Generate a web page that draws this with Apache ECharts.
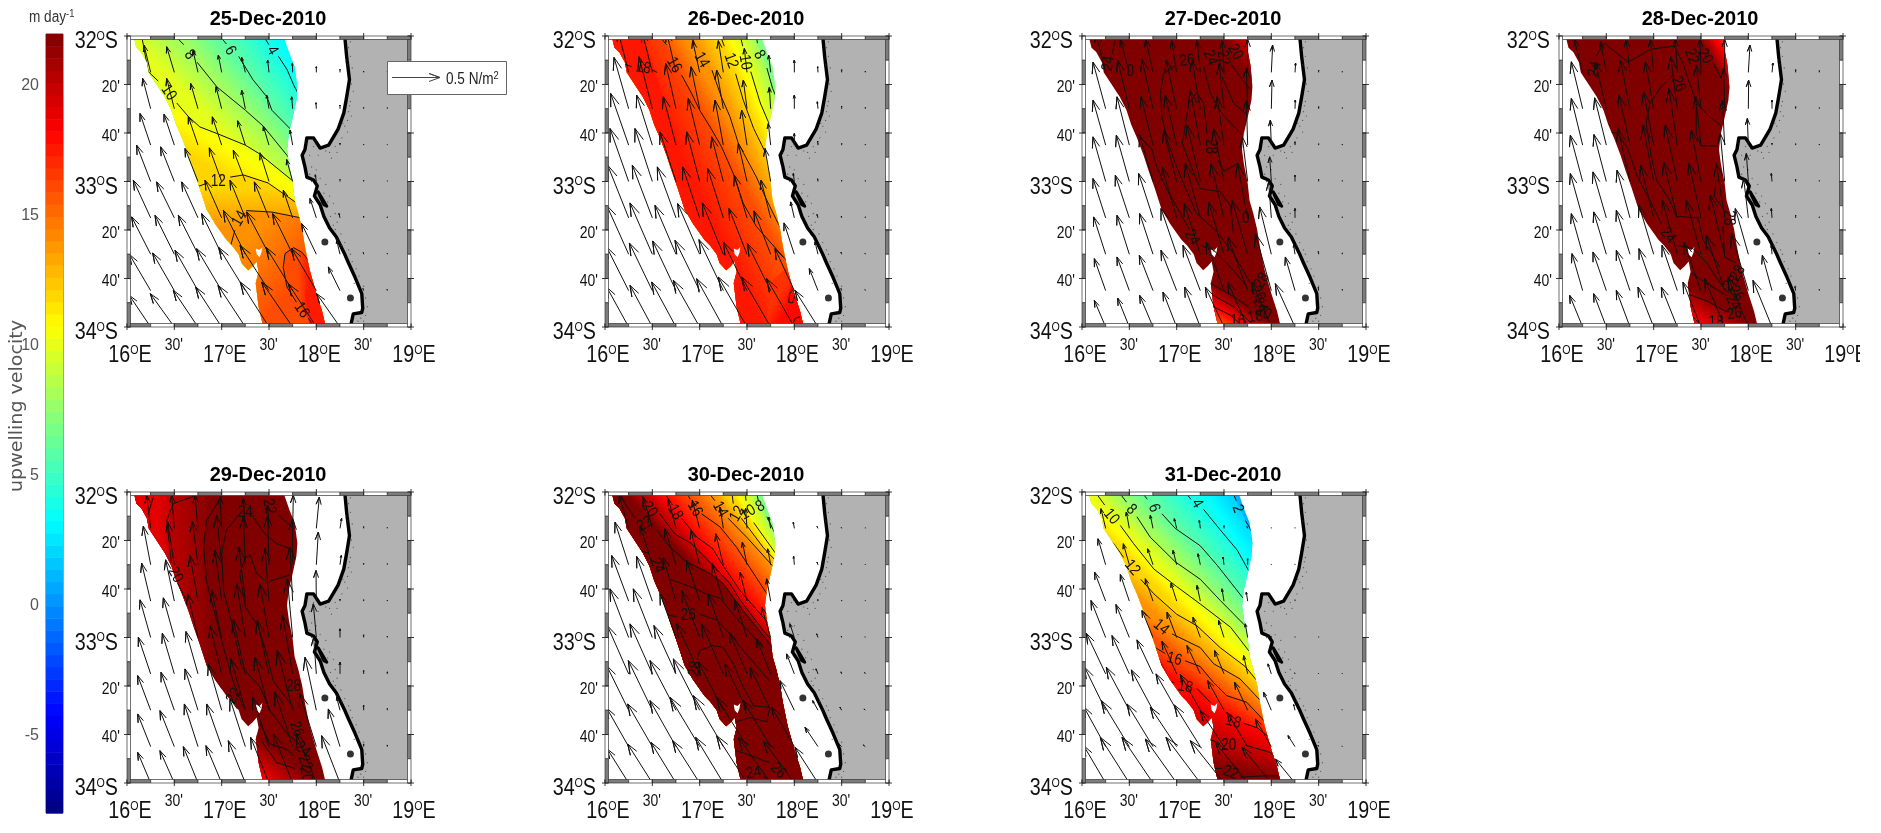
<!DOCTYPE html>
<html><head><meta charset="utf-8">
<script src="https://cdn.jsdelivr.net/npm/echarts@6/dist/echarts.min.js"></script>
<style>html,body{margin:0;padding:0;background:#fff}#c{width:1881px;height:833px;filter:blur(0.35px)}</style>
</head><body><div id="c"></div>
<script>
// ---------- axes ----------
const lonTicks=[16,16.5,17,17.5,18,18.5,19];
const lonTickLabels=['16|E',"30'",'17|E',"30'",'18|E',"30'",'19|E'];
const latTicks=[-32,-32.3333,-32.6667,-33,-33.3333,-33.6667,-34];
const latTickLabels=['32|S',"20'","40'",'33|S',"20'","40'",'34|S'];
const colorTicks=[-5,0,5,10,15,20];
const colorMin=-8,colorMax=22,colorLevels=64;
const dates=['25-Dec-2010','26-Dec-2010','27-Dec-2010','28-Dec-2010','29-Dec-2010','30-Dec-2010','31-Dec-2010'];
// ---------- wind stress grid: tails of the arrows ----------
const gridLons=[16.25,16.5,16.75,17,17.25,17.5,17.75,18,18.25,18.5,18.75];
const gridLats=[-32.25,-32.5,-32.75,-33,-33.25,-33.5,-33.75,-34];
// stress components, row by row; 142 units = 0.5 N/m2
const tauE25=[-20,-23,-15,-10,-11,-4,-1,0,0,0,0,-24,-23,-22,-17,-11,-7,-3,-1,0,0,0,-32,-31,-29,-28,-23,-17,-8,-1,0,0,0,-42,-41,-39,-37,-36,-27,-18,-3,0,0,0,-52,-53,-49,-50,-46,-44,-28,-19,-3,0,0,-57,-58,-59,-60,-66,-67,-60,-44,-10,-1,0,-64,-65,-69,-75,-80,-87,-80,-74,-35,-2,-1,-64,-72,-74,-78,-82,-86,-93,-84,-70,0,0];
const tauN25=[82,77,65,52,45,37,27,17,9,4,3,91,91,76,66,56,41,36,18,11,4,3,95,93,85,85,73,57,45,15,6,3,2,109,104,99,101,94,86,66,20,6,4,2,113,108,108,113,113,108,83,58,13,5,3,112,117,117,122,132,127,122,92,42,5,3,109,113,121,126,130,136,130,126,71,6,4,95,100,110,120,125,135,135,130,100,0,0];
const tauE26=[-32,-30,-28,-21,-15,-8,-6,0,-1,0,0,-44,-40,-31,-26,-20,-11,-4,0,-2,0,0,-54,-47,-38,-34,-25,-16,-7,0,-1,0,0,-56,-52,-48,-39,-35,-26,-17,-3,-1,0,0,-63,-60,-56,-51,-47,-38,-29,-11,-3,-1,0,-66,-67,-63,-66,-63,-54,-50,-31,-9,-2,-1,-66,-69,-70,-74,-73,-71,-70,-58,-26,-2,-1,-66,-67,-73,-79,-80,-86,-87,-83,-69,0,0];
const tauN26=[125,120,120,95,95,72,52,37,17,8,4,154,156,136,126,116,86,64,41,21,8,4,155,150,145,140,135,105,65,35,12,5,3,159,159,149,149,134,114,99,24,8,4,3,158,158,153,153,148,128,113,48,10,5,3,147,154,147,152,154,137,130,94,37,6,3,131,143,149,151,153,146,141,126,66,6,3,120,125,135,140,145,150,150,145,110,0,0];
const tauE27=[-30,-27,-22,-15,-10,-5,0,4,2,0,0,-38,-35,-33,-31,-25,-14,-4,2,1,0,0,-38,-37,-36,-34,-30,-21,-4,-3,0,0,0,-38,-39,-40,-39,-40,-31,-16,-5,0,0,0,-38,-42,-43,-44,-45,-39,-30,-8,0,0,0,-36,-37,-40,-47,-48,-46,-47,-35,-4,-1,0,-34,-37,-41,-47,-52,-53,-60,-48,-29,-1,0,-34,-35,-40,-41,-47,-56,-60,-58,-59,0,0];
const tauN27=[120,100,100,95,95,95,100,82,28,6,3,140,146,148,146,146,136,121,86,26,6,3,135,145,145,150,163,145,135,75,10,4,3,134,139,139,154,169,159,134,74,19,6,3,118,128,133,153,163,163,163,108,28,8,3,112,117,122,137,152,157,162,142,27,8,4,96,101,106,121,136,146,161,171,101,10,4,80,87,95,105,120,120,135,135,130,0,0];
const tauE28=[-25,-17,-12,-10,-6,-3,0,5,3,0,0,-34,-33,-29,-25,-20,-14,-3,1,0,0,0,-34,-35,-33,-30,-25,-16,-7,-3,0,0,0,-37,-37,-36,-32,-36,-29,-13,-6,-2,0,0,-37,-40,-39,-39,-41,-36,-25,-14,-2,0,0,-34,-38,-41,-44,-45,-44,-43,-39,-2,0,0,-32,-40,-41,-44,-46,-52,-55,-51,-29,-2,0,-39,-38,-41,-47,-48,-54,-60,-61,-57,0,0];
const tauN28=[100,92,100,100,100,100,100,82,28,8,5,141,140,146,141,156,131,121,86,26,6,3,140,142,150,160,170,145,135,80,6,4,3,139,141,159,169,169,154,144,84,24,7,3,133,138,143,158,168,163,163,118,28,8,3,122,127,132,147,162,162,177,137,27,10,4,111,116,121,126,136,146,166,171,106,12,4,95,100,110,120,120,135,145,150,140,0,0];
const tauE29=[-12,-8,-9,-5,-6,-4,2,9,5,0,0,-22,-20,-17,-15,-6,-4,0,6,4,0,0,-27,-26,-24,-20,-19,-12,-8,-1,0,0,0,-32,-33,-31,-30,-26,-27,-16,-9,0,0,0,-37,-36,-36,-35,-36,-35,-30,-8,0,0,0,-39,-40,-39,-40,-43,-42,-46,-34,-10,0,0,-39,-43,-41,-45,-46,-49,-53,-50,-35,0,0,-39,-43,-44,-47,-51,-55,-58,-60,-55,0,0];
const tauN29=[100,100,100,95,90,70,100,94,30,5,3,116,128,130,148,143,148,138,98,28,5,3,114,124,137,152,162,157,162,92,6,4,3,113,119,131,141,161,161,176,101,26,8,4,110,122,127,145,162,160,175,110,35,10,6,104,114,124,139,154,159,179,159,39,15,5,98,108,128,128,143,148,163,160,113,8,5,92,97,109,112,127,137,147,150,142,0,0];
const tauE30=[-28,-27,-23,-22,-10,-4,-6,-3,-3,-1,0,-41,-37,-33,-26,-23,-14,-9,-2,-3,-1,0,-51,-47,-38,-39,-33,-21,-12,-2,-1,0,0,-56,-57,-48,-54,-45,-36,-27,-13,-4,-1,-1,-64,-67,-66,-69,-65,-53,-42,-23,-6,-2,-2,-66,-72,-78,-79,-75,-66,-62,-43,-16,-5,-4,-66,-74,-78,-89,-90,-91,-82,-68,-39,-8,-6,-64,-74,-75,-81,-83,-91,-97,-93,-69,0,0];
const tauN30=[99,94,89,84,64,60,34,19,6,3,2,128,118,108,103,93,68,48,25,8,3,2,137,134,130,122,112,87,67,10,4,3,2,146,146,131,141,131,111,91,41,11,4,2,145,150,145,150,150,125,105,60,15,6,4,134,149,149,154,145,139,129,89,29,9,4,116,128,138,148,153,148,138,118,58,8,5,102,117,122,127,137,142,137,127,107,0,0];
const tauE31=[-14,-9,-8,-7,-3,0,-2,0,0,0,0,-23,-18,-16,-11,-7,-3,0,0,0,0,0,-33,-27,-23,-17,-10,-6,-4,0,0,0,0,-44,-40,-33,-29,-22,-16,-7,-1,0,0,0,-58,-52,-48,-44,-40,-28,-12,-10,-1,-1,0,-63,-69,-65,-62,-60,-49,-39,-23,-4,-1,-1,-66,-84,-78,-79,-78,-71,-62,-48,-21,-2,-1,-66,-87,-93,-94,-103,-101,-97,-88,-59,0,0];
const tauN31=[59,49,39,29,24,8,5,2,2,0,0,78,63,48,43,33,23,18,2,2,0,0,87,80,67,54,47,37,27,2,2,0,0,111,99,81,76,61,51,41,4,2,2,0,122,115,102,98,85,70,55,30,3,2,2,129,129,121,109,107,89,84,54,17,3,2,120,138,128,118,125,108,103,83,33,4,2,112,137,137,132,137,127,122,107,72,0,0];
// ---------- geography (lon, lat) ----------
const regionWest=[[16.07,-32],[16.10,-32.08],[16.15,-32.11],[16.21,-32.18],[16.23,-32.25],[16.31,-32.33],[16.40,-32.42],[16.47,-32.51],[16.52,-32.61],[16.58,-32.70],[16.65,-32.82],[16.70,-32.92],[16.77,-33.05],[16.84,-33.19],[16.93,-33.29],[17.05,-33.40],[17.11,-33.44],[17.18,-33.50],[17.21,-33.56],[17.28,-33.61],[17.33,-33.58],[17.37,-33.55],[17.39,-33.62],[17.36,-33.70],[17.39,-33.86],[17.44,-34]];
const regionEast=[[18.10,-34],[18.06,-33.89],[18.00,-33.77],[17.93,-33.61],[17.88,-33.45],[17.85,-33.33],[17.81,-33.22],[17.77,-33.13],[17.75,-33.01],[17.71,-32.88],[17.69,-32.78],[17.71,-32.67],[17.75,-32.56],[17.79,-32.44],[17.80,-32.35]];
const regionNorth=[[17.77,-32.21],[17.72,-32.13],[17.65,-32]];
const regionNorthWide=[[17.78,-32.2],[17.75,-32.1],[17.74,-32]];
const regionHole=[[17.36,-33.46],[17.40,-33.47],[17.43,-33.45],[17.42,-33.49],[17.40,-33.52],[17.37,-33.50]];
const coast=[[18.30,-32],[18.32,-32.14],[18.35,-32.30],[18.32,-32.42],[18.29,-32.53],[18.23,-32.64],[18.13,-32.75],[18.04,-32.77],[17.97,-32.70],[17.90,-32.70],[17.88,-32.78],[17.85,-32.82],[17.88,-32.90],[17.90,-32.97],[17.97,-32.99],[18.01,-33.03],[17.98,-33.10],[18.04,-33.16],[18.08,-33.24],[18.14,-33.32],[18.21,-33.38],[18.30,-33.50],[18.34,-33.56],[18.41,-33.66],[18.48,-33.77],[18.49,-33.87],[18.48,-33.90],[18.39,-33.91],[18.36,-34]];
const bay=[[18.02,-33.07],[18.07,-33.125],[18.11,-33.17],[18.08,-33.16],[18.03,-33.09]];
const islands=[[18.09,-33.415],[18.36,-33.80]];
const coastSpecks=[[18.34,-32.08],[18.36,-32.14],[18.33,-32.2],[18.38,-32.22],[18.37,-32.33],[18.39,-32.38],[18.36,-32.45],[18.34,-32.52],[18.37,-32.55],[18.33,-32.58],[18.3,-32.62],[18.33,-32.66],[18.27,-32.7],[18.25,-32.74],[18.2,-32.76],[18.14,-32.8],[18.1,-32.79],[18.22,-32.8],[18.02,-32.82],[17.97,-32.76],[17.93,-32.82],[17.95,-32.9],[17.93,-32.95],[18.0,-32.92],[18.04,-32.98],[18.1,-33.02],[18.08,-33.08],[18.14,-33.1],[18.12,-33.14],[18.18,-33.15],[18.2,-33.22],[18.15,-33.24],[18.22,-33.28],[18.2,-33.33],[18.26,-33.36],[18.3,-33.42],[18.34,-33.47],[18.38,-33.55],[18.36,-33.5],[18.42,-33.6],[18.45,-33.65],[18.5,-33.72],[18.52,-33.8],[18.54,-33.86],[18.52,-33.92],[18.5,-33.96],[18.44,-33.96],[18.56,-33.98],[18.4,-33.98],[18.36,-32.04],[18.35,-32.48],[18.28,-32.6],[18.16,-32.84],[17.95,-33.0],[18.18,-33.3],[18.27,-33.44],[18.4,-33.7],[18.47,-33.94]];
const NE=[[18.5,-32.9],[18.5,-31.9]], SW=[[17,-34.1],[17,-33.5]], WEST=[[15.9,-33.8],[15.9,-31.9]], EAST=[[18.5,-33.5],[18.5,-34.05]];
// ---------- upwelling contours (value, lon/lat path; null = gap for the label) ----------
const iso25=[
{v:3,hide:1,pts:[[17.65,-32],[17.85,-32.2],[17.95,-32.3]]},
{v:4,pts:[[17.44,-32],[17.50,-32.06],null,[17.60,-32.14],[17.69,-32.23],[17.77,-32.35],[17.93,-32.53]]},
{v:6,pts:[[16.98,-32],[17.05,-32.055],null,[17.18,-32.14],[17.33,-32.30],[17.48,-32.42],[17.53,-32.51],[17.72,-32.635],[17.92,-32.77]]},
{v:8,pts:[[16.51,-32],[16.60,-32.06],null,[16.74,-32.18],[16.95,-32.35],[17.25,-32.51],[17.44,-32.62],[17.69,-32.82],[17.85,-32.96]]},
{v:10,pts:[[16.155,-32],[16.225,-32.245],[16.33,-32.31],null,[16.525,-32.46],[16.65,-32.555],[16.77,-32.625],[16.95,-32.67],[17.25,-32.75],[17.40,-32.81],[17.74,-32.99],[17.92,-33.09]]},
{v:12,pts:[[16.63,-33.04],[16.77,-33.03],[16.85,-33.01],null,[17.09,-32.97],[17.23,-32.955],[17.49,-33.01],[17.775,-33.14],[17.99,-33.23]]},
{v:14,pts:[[17.05,-33.495],[17.095,-33.44],[17.14,-33.335],null,[17.26,-33.20],[17.53,-33.21],[17.76,-33.24],[17.99,-33.27]]},
{v:16,close:EAST,pts:[[17.99,-34.01],[17.915,-33.94],null,[17.79,-33.83],[17.69,-33.725],[17.65,-33.59],[17.67,-33.495],[17.76,-33.455],[17.845,-33.485],[17.95,-33.565]]},
{v:17.5,hide:1,close:EAST,pts:[[17.93,-34.01],[17.88,-33.77],[17.95,-33.59]]}];
const fills25=[iso25];
const extra25=[];
const labels25=[[17.535,-32.10,'4',-60],[17.09,-32.10,'6',-60],[16.66,-32.13,'8',-50],[16.44,-32.39,'10',-55],[16.965,-33.00,'12',0],[17.19,-33.255,'14',60],[17.845,-33.885,'16',-55]];

const iso26=[
{v:8,pts:[[17.60,-32],[17.61,-32.05],null,[17.71,-32.22],[17.77,-32.36],[17.88,-32.53]]},
{v:10,pts:[[17.43,-32],[17.455,-32.07],null,[17.54,-32.245],[17.64,-32.46],[17.725,-32.59],[17.88,-32.74]]},
{v:12,pts:[[17.22,-32],[17.26,-32.07],null,[17.38,-32.26],[17.46,-32.44],[17.57,-32.635],[17.69,-32.795],[17.92,-33.04]]},
{v:14,pts:[[16.915,-32],[16.95,-32.06],null,[17.13,-32.235],[17.23,-32.42],[17.32,-32.555],[17.41,-32.74],[17.60,-32.97],[17.71,-33.13],[17.83,-33.29],[17.99,-33.45]]},
{v:16,pts:[[16.57,-32],[16.65,-32.06],null,[16.81,-32.27],[16.915,-32.395],[17.00,-32.51],[17.11,-32.625],[17.23,-32.76],[17.355,-32.945],[17.46,-33.15],[17.60,-33.31],[17.90,-33.53],[18.13,-33.66]]},
{v:17.6,hide:1,pts:[[16.405,-32],[16.545,-32.28],[16.72,-32.625],[16.86,-32.945],[17.07,-33.31],[17.32,-33.565],[17.43,-33.70],[17.50,-34.01]]}];
const fills26=[iso26,[{v:16.8,hide:1,close:EAST,pts:[[17.71,-34.01],[17.74,-33.70],[17.92,-33.59],[18.24,-33.59]]},{v:18,hide:1,close:EAST,pts:[[17.95,-34.01],[17.92,-33.80],[18.0,-33.65],[18.24,-33.6]]}]];
const extra26=[[[16.19,-32.19],[16.28,-32.21]],[[16.49,-32.23],[16.55,-32.25]],[[17.99,-33.74],[17.95,-33.77],[17.94,-33.83],[17.98,-33.835],[18.01,-33.78],[17.99,-33.74]],[[18.06,-33.93],[18.01,-33.94],[17.99,-33.97]]];
const labels26=[[16.405,-32.22,'18',-10],[16.73,-32.20,'16',-60],[17.02,-32.165,'14',-60],[17.33,-32.17,'12',-70],[17.48,-32.18,'10',-80],[17.63,-32.13,'8',-60]];

const fills27=[
[{v:22,hide:1,close:NE,pts:[[17.51,-32],[17.67,-32.19],[17.85,-32.39]]},{v:20,hide:1,close:NE,pts:[[17.69,-32],[17.76,-32.12],[17.92,-32.23]]}],
[{v:22,hide:1,close:SW,pts:[[17.30,-33.68],[17.60,-33.79],[17.76,-33.86],[18.05,-34.01]]},{v:20,close:SW,pts:[[17.30,-33.75],[17.60,-33.86],[17.85,-34.01]]},{v:18,close:SW,pts:[[17.30,-33.83],[17.57,-33.92],[17.72,-34.01]]},{v:16,close:SW,hide:1,pts:[[17.30,-33.92],[17.50,-33.98],[17.56,-34.01]]},{v:14.5,hide:1,close:SW,pts:[[17.30,-33.97],[17.42,-34.01]]}]];
const extra27=[
[[16.35,-32.03],[16.32,-32.12]],
[[16.58,-32.67],[16.74,-32.78],[16.79,-32.90],[16.90,-33.06],[17.04,-33.22],[17.14,-33.335],null,[17.25,-33.44],[17.39,-33.47],[17.46,-33.52],[17.57,-33.59],[17.74,-33.72]],
[[16.99,-32.20],[16.86,-32.26],[16.83,-32.39],[16.845,-32.555],[16.90,-32.715],[17.00,-32.90],[17.09,-33.04],[17.21,-33.22],[17.43,-33.35],[17.60,-33.495],[17.78,-33.70]],
[[17.32,-32.67],[17.285,-32.46],[17.21,-32.39],[17.13,-32.46],[17.06,-32.74],[17.14,-32.875],[17.25,-33.05],[17.46,-33.07],[17.57,-33.17],[17.60,-33.36]],
[[17.43,-32.85],[17.50,-32.93],[17.64,-32.875]],
[[17.285,-32.21],[17.355,-32.39],[17.43,-32.49],[17.57,-32.60],[17.69,-32.68]],
[[17.48,-32.28],[17.60,-32.46],[17.74,-32.54]],
[[17.57,-32.19],[17.67,-32.28],[17.78,-32.37]],
[[17.355,-33.70],[17.60,-33.79],[17.76,-33.86]]];
const labels27=[[16.28,-32.19,'24',80],[16.51,-32.245,'0',0],[17.11,-32.17,'26',5],[17.355,-32.15,'24',-70],[17.49,-32.15,'22',-80],[17.62,-32.11,'20',-60],[17.36,-32.76,'28',-90],[17.73,-33.255,'0',0],[17.16,-33.385,'24',-60],[17.90,-33.68,'28',60],[17.855,-33.77,'26',-60],[17.88,-33.85,'24',-60],[17.92,-33.90,'20',-30],[17.83,-33.93,'18',10],[17.645,-33.96,'16',0]];

const fills28=[
[{v:22,hide:1,close:NE,pts:[[17.48,-32],[17.62,-32.17],[17.85,-32.45]]},{v:19,hide:1,close:NE,pts:[[17.60,-32],[17.72,-32.13],[17.90,-32.30]]},{v:17.5,hide:1,close:NE,pts:[[17.68,-32],[17.75,-32.06],[17.9,-32.15]]}],
[{v:22,hide:1,close:SW,pts:[[17.28,-33.68],[17.56,-33.78],[17.78,-33.87],[18.05,-34.01]]},{v:20,hide:1,close:SW,pts:[[17.28,-33.80],[17.56,-33.90],[17.80,-34.01]]},{v:18.5,hide:1,close:SW,pts:[[17.28,-33.90],[17.50,-33.97],[17.60,-34.01]]}]];
const extra28=[
[[16.39,-32.14],[16.48,-32.05],[16.73,-32.18],[16.975,-32.09],[17.22,-32.07],[17.31,-32.19],[17.45,-32.46],[17.59,-32.555],[17.715,-32.62]],
[[17.20,-32.27],[17.08,-32.35],[16.96,-32.46],[16.92,-32.60],[16.975,-32.83],[17.03,-32.99],[17.17,-33.13],[17.24,-33.24],[17.47,-33.25],[17.52,-33.40],[17.70,-33.59]],
[[16.535,-32.66],[16.62,-32.67],[16.73,-32.78],[16.83,-32.97],[16.96,-33.13],[17.08,-33.29],null,[17.26,-33.44],[17.415,-33.46],[17.56,-33.56],[17.73,-33.725],[17.80,-33.77]],
[[17.45,-32.49],[17.45,-32.67],[17.50,-32.755],[17.68,-32.755]],
[[17.66,-32.99],[17.64,-33.105],[17.75,-33.20]],
[[17.73,-33.31],[17.75,-33.52],[17.87,-33.56]],
[[17.40,-33.63],[17.56,-33.70],[17.785,-33.79]],
[[17.345,-33.77],[17.56,-33.82],[17.785,-33.90]],
[[17.415,-33.93],[17.49,-33.98]],
[[17.63,-32.19],[17.715,-32.29]]];
const labels28=[[16.38,-32.23,'24',75],[17.40,-32.14,'22',-70],[17.54,-32.14,'20',-60],[17.26,-32.33,'26',-70],[17.785,-33.25,'28',-90],[17.15,-33.37,'24',-50],[17.89,-33.63,'28',60],[17.82,-33.70,'28',45],[17.87,-33.77,'26',-60],[17.84,-33.83,'24',-60],[17.855,-33.91,'26',10],[17.66,-33.97,'18',0]];

const fills29=[
[{v:22,hide:1,close:WEST,pts:[[16.98,-32],[16.84,-32.2],[16.80,-32.53],[16.91,-32.94],[17.00,-33.25],[17.0,-33.45]]},{v:20.5,hide:1,close:WEST,pts:[[16.56,-32],[16.44,-32.195],[16.49,-32.49],[16.665,-32.745],[16.55,-32.85]]},{v:19,hide:1,close:WEST,pts:[[16.28,-32],[16.28,-32.26],[16.42,-32.40],[16.30,-32.5]]}],
[{v:22,hide:1,close:SW,pts:[[17.30,-33.62],[17.50,-33.75],[17.75,-33.86],[18.1,-34.02]]},{v:20,hide:1,close:SW,pts:[[17.30,-33.80],[17.55,-33.90],[17.70,-34.02]]},{v:18.5,hide:1,close:SW,pts:[[17.30,-33.92],[17.45,-33.97],[17.55,-34.02]]}]];
const extra29=[
[[16.28,-32.03],[16.225,-32.15]],
[[16.70,-32.03],[16.49,-32.08],[16.42,-32.195],[16.47,-32.49],null,[16.54,-32.63],[16.63,-32.75]],
[[17.00,-32.03],[16.84,-32.195],[16.81,-32.38],[16.84,-32.61],[16.91,-32.79],[17.00,-33.02],[17.12,-33.30],[17.23,-33.48]],
[[17.19,-32.15],[17.05,-32.26],[17.00,-32.42],[17.02,-32.68],[17.12,-32.93],[17.21,-33.20],[17.405,-33.34],[17.51,-33.50],[17.69,-33.66],[17.83,-33.74]],
[[17.32,-32.16],[17.46,-32.29],[17.58,-32.355],[17.72,-32.39]],
[[17.60,-32.16],[17.76,-32.25]],
[[17.72,-32.57],[17.475,-32.62],[17.37,-32.56],[17.30,-32.435],[17.25,-32.45],[17.19,-32.56],[17.25,-32.79],[17.39,-32.93],[17.475,-33.11],[17.545,-33.30],[17.76,-33.48]],
[[17.405,-33.59],[17.51,-33.73],[17.69,-33.77],[17.76,-33.81]],
[[17.42,-33.71],[17.58,-33.86],[17.775,-33.90]]];
const labels29=[[16.51,-32.57,'20',-60],[17.25,-32.14,'24',0],[17.50,-32.10,'22',-80],[17.76,-33.34,'28',0],[17.13,-33.40,'22',60],[17.79,-33.63,'26',-70],[17.855,-33.77,'24',-40],[17.88,-33.86,'22',-70],[17.89,-33.94,'20',-80]];

const iso30=[
{v:8,pts:[[17.60,-32],[17.62,-32.06],null,[17.71,-32.17],[17.80,-32.29],[17.95,-32.5]]},
{v:10,pts:[[17.48,-32],[17.49,-32.06],null,[17.57,-32.21],[17.80,-32.42],[17.92,-32.52]]},
{v:12,pts:[[17.34,-32],[17.355,-32.08],null,[17.44,-32.18],[17.67,-32.38],[17.80,-32.47],[17.95,-32.60]]},
{v:14,pts:[[17.09,-32],[17.16,-32.06],null,[17.30,-32.18],[17.51,-32.32],[17.76,-32.50],[17.95,-32.64]]},
{v:16,pts:[[16.86,-32],[16.90,-32.05],null,[17.02,-32.15],[17.215,-32.24],[17.39,-32.38],[17.53,-32.52],[17.71,-32.70],[17.92,-32.86]]},
{v:18,pts:[[16.63,-32],[16.67,-32.05],null,[16.81,-32.18],[16.97,-32.31],[17.14,-32.39],[17.23,-32.49],[17.43,-32.68],[17.67,-32.86],[17.92,-33.02]]},
{v:20,pts:[[16.37,-32],[16.405,-32.05],null,[16.58,-32.15],[16.74,-32.29],[16.915,-32.355],[17.14,-32.505],[17.32,-32.63],[17.43,-32.745],[17.67,-32.95],[17.92,-33.135]]},
{v:22,pts:[[16.15,-32],[16.23,-32.10],[16.32,-32.18],null,[16.545,-32.26],[16.69,-32.38],[16.86,-32.48],[17.11,-32.56],[17.25,-32.63],[17.43,-32.79],[17.71,-33.02],[17.95,-33.20]]}];
const fills30=[iso30];
const extra30=[
[[16.35,-32.40],[16.46,-32.42],null,[16.69,-32.60],[16.90,-32.65],[17.07,-32.70],[17.215,-32.73],[17.355,-32.84],[17.67,-33.07]],
[[16.65,-32.84],[16.76,-32.86],null,[17.00,-32.84],[17.18,-32.88],[17.32,-32.975],[17.46,-33.09],[17.74,-33.30]],
[[16.97,-33.15],[17.00,-33.09],[17.14,-33.055],[17.25,-33.07],[17.355,-33.18],[17.46,-33.34],[17.57,-33.47],[17.74,-33.48],[17.71,-33.58],[17.53,-33.55],[17.39,-33.58]],
[[17.355,-33.77],[17.74,-33.86],null,[17.95,-33.97]],
[[17.67,-33.95],[17.74,-33.99]]];
const labels30=[[16.47,-32.12,'20',-55],[16.74,-32.14,'18',-60],[16.95,-32.115,'16',-60],[17.215,-32.12,'14',-60],[17.40,-32.15,'12',60],[17.51,-32.14,'10',30],[17.64,-32.10,'8',30],[16.42,-32.22,'22',30],[16.55,-32.505,'24',-70],[16.88,-32.85,'26',0],[16.95,-33.215,'28',80],[17.57,-33.93,'24',10],[17.83,-33.915,'26',-45]];

const iso31=[
{v:2,pts:[[17.59,-32],[17.63,-32.06],null,[17.725,-32.195],[17.81,-32.29],[17.95,-32.45]]},
{v:4,pts:[[17.09,-32],[17.15,-32.05],null,[17.285,-32.12],[17.46,-32.26],[17.64,-32.40],[17.76,-32.54],[17.95,-32.70]]},
{v:6,pts:[[16.63,-32],[16.69,-32.05],null,[16.845,-32.15],[16.985,-32.25],[17.25,-32.37],[17.43,-32.505],[17.69,-32.72],[17.92,-32.88]]},
{v:8,pts:[[16.39,-32],[16.47,-32.07],null,[16.58,-32.17],[16.72,-32.31],[16.985,-32.48],[17.25,-32.60],[17.46,-32.745],[17.71,-32.91],[17.95,-33.07]]},
{v:10,pts:[[16.14,-32],[16.24,-32.09],null,[16.405,-32.23],[16.545,-32.355],[16.76,-32.53],[17.00,-32.65],[17.25,-32.77],[17.57,-32.93],[17.76,-33.09],[17.99,-33.25]]},
{v:12,pts:[[16.19,-32.26],[16.335,-32.355],[16.44,-32.45],null,[16.62,-32.60],[16.76,-32.70],[17.00,-32.84],[17.215,-32.92],[17.46,-33.07],[17.725,-33.20],[17.99,-33.41]]},
{v:14,pts:[[16.53,-32.745],[16.63,-32.81],[16.72,-32.87],null,[16.95,-32.975],[17.25,-33.07],[17.39,-33.18],[17.67,-33.285],[17.88,-33.43],[18.10,-33.55]]},
{v:16,pts:[[16.69,-33.02],[16.775,-33.07],[16.88,-33.11],null,[17.09,-33.16],[17.25,-33.20],[17.39,-33.31],[17.53,-33.40],[17.74,-33.445],[17.95,-33.59],[18.13,-33.685]]},
{v:18,pts:[[16.83,-33.25],[16.915,-33.30],[16.975,-33.31],null,[17.215,-33.35],[17.355,-33.445],null,[17.71,-33.59],[17.85,-33.62],[18.01,-33.70],[18.165,-33.78]]},
{v:20,pts:[[17.25,-33.685],[17.39,-33.71],[17.46,-33.73],null,[17.725,-33.74],[17.99,-33.79],[18.095,-33.86],[18.2,-33.89]]},
{v:22,pts:[[17.25,-33.89],[17.39,-33.90],[17.48,-33.90],null,[17.67,-33.96],[17.95,-33.95],[18.17,-33.95]]}];
const fills31=[iso31];
const extra31=[];
const labels31=[[17.645,-32.115,'2',-70],[17.215,-32.08,'4',-60],[16.76,-32.11,'6',-70],[16.52,-32.12,'8',-45],[16.31,-32.17,'10',-50],[16.53,-32.52,'12',-50],[16.835,-32.93,'14',-40],[16.975,-33.15,'16',-15],[17.09,-33.34,'18',-10],[17.60,-33.58,'18',-15],[17.55,-33.74,'20',0],[17.57,-33.93,'22',-20]];

const panels=[
{fills:fills25,extra:extra25,labels:labels25,base:3,tauE:tauE25,tauN:tauN25,north:regionNorth},
{fills:fills26,extra:extra26,labels:labels26,base:7,tauE:tauE26,tauN:tauN26,north:regionNorth},
{fills:fills27,extra:extra27,labels:labels27,base:22,tauE:tauE27,tauN:tauN27,north:regionNorthWide},
{fills:fills28,extra:extra28,labels:labels28,base:22,tauE:tauE28,tauN:tauN28,north:regionNorthWide},
{fills:fills29,extra:extra29,labels:labels29,base:22,tauE:tauE29,tauN:tauN29,north:regionNorth},
{fills:fills30,extra:extra30,labels:labels30,base:7,tauE:tauE30,tauN:tauN30,north:regionNorth},
{fills:fills31,extra:extra31,labels:labels31,base:1,tauE:tauE31,tauN:tauN31,north:regionNorth}];

// ---------- layout and style ----------
const panelLefts=[127,605,1082,1559,127,605,1082];
const panelTops=[36,36,36,36,492,492,492];
const PW=284,PH=291,BAND=3.5;
const ARROW_PX=1/3;
const SANS='"Liberation Sans",Arial,sans-serif';
const NARROW='"Liberation Sans Narrow","Liberation Sans",Arial,sans-serif';
const SQUEEZE=0.82;
const DEFAULT_CLOSE=[[19.5,-34.5],[15.5,-34.5],[15.5,-31.5]];
const tickRich={
  maj:{fontFamily:SANS,fontSize:24,lineHeight:24,fill:'#111'},
  sup:{fontFamily:SANS,fontSize:13,lineHeight:11,verticalAlign:'top',fill:'#111'},
  min:{fontFamily:SANS,fontSize:17,lineHeight:17,fill:'#111'}};

function jet(v){
  const t=Math.min(1,Math.max(0,(v-colorMin)/(colorMax-colorMin)));
  const c=x=>Math.round(255*Math.min(1,Math.max(0,1.5-Math.abs(4*t-x))));
  return `rgb(${c(3)},${c(2)},${c(1)})`;
}
const clean=pts=>pts.filter(Boolean);
const segs=pts=>{const o=[];let cur=[];pts.forEach(p=>{if(p)cur.push(p);else{o.push(cur);cur=[];}});o.push(cur);return o;};
const mean=a=>[a.reduce((s,p)=>s+p[0],0)/a.length,a.reduce((s,p)=>s+p[1],0)/a.length];
function gradient(a,b,px){
  const A=clean(a.pts).map(px),B=clean(b.pts).map(px);
  const dx=A[A.length-1][0]-A[0][0]+B[B.length-1][0]-B[0][0],dy=A[A.length-1][1]-A[0][1]+B[B.length-1][1]-B[0][1];
  const l=Math.hypot(dx,dy)||1,nx=-dy/l,ny=dx/l;
  const ca=mean(A),cb=mean(B);
  const d=(cb[0]-ca[0])*nx+(cb[1]-ca[1])*ny;
  const stops=[];
  for(let i=0;i<=6;i++)stops.push({offset:i/6,color:jet(a.v+(b.v-a.v)*i/6)});
  return {type:'linear',global:true,x:ca[0],y:ca[1],x2:ca[0]+nx*d,y2:ca[1]+ny*d,colorStops:stops};
}
function regionOf(p){return regionWest.concat(regionEast,p.north);}
function tickText(s){
  if(s.includes('|')){const q=s.split('|');return `{maj|${q[0]}}{sup|O}{maj|${q[1]}}`;}
  return `{min|${s}}`;
}

const grid=[],xAxis=[],yAxis=[],series=[],title=[];
panels.forEach((p,i)=>{
  const L=panelLefts[i],T=panelTops[i];
  grid.push({left:L,top:T,width:PW,height:PH,show:false});
  title.push({text:dates[i],left:L+PW/2-6,top:T-32,textAlign:'center',textStyle:{fontFamily:NARROW,fontWeight:'bold',fontSize:20,color:'#000'}});
  xAxis.push({type:'value',gridIndex:i,min:16,max:19,splitLine:{show:false},axisLine:{show:false},axisTick:{show:false},axisLabel:{show:false}});
  yAxis.push({type:'value',gridIndex:i,min:-34,max:-32,splitLine:{show:false},axisLine:{show:false},axisTick:{show:false},axisLabel:{show:false}});
  const ax={xAxisIndex:i,yAxisIndex:i,silent:true,animation:false};
  // upwelling field, clipped to the sampled region
  series.push({...ax,type:'custom',clip:true,z:1,data:[[16,-32]],renderItem:(params,api)=>{
    const px=q=>api.coord(q);
    const a=px([16,-32]),b=px([19,-34]);
    const kids=[{type:'rect',shape:{x:a[0],y:a[1],width:b[0]-a[0],height:b[1]-a[1]},style:{fill:jet(p.base)}}];
    p.fills.forEach(chain=>chain.forEach((e,k)=>{
      const poly=clean(e.pts).concat(e.close||DEFAULT_CLOSE).map(px);
      kids.push({type:'polygon',shape:{points:poly},style:{fill:k<chain.length-1?gradient(e,chain[k+1],px):jet(e.v)}});
    }));
    kids.push({type:'polygon',shape:{points:regionHole.map(px)},style:{fill:'#fff'}});
    return {type:'group',clipPath:{type:'polygon',shape:{points:regionOf(p).map(px)}},children:kids};
  }});
  // land, coast
  series.push({...ax,type:'custom',clip:true,z:2,data:[[16,-32]],renderItem:(params,api)=>{
    const px=q=>api.coord(q);
    const land=coast.concat([[19,-34],[19,-32]]).map(px);
    return {type:'group',children:[
      {type:'polygon',shape:{points:land},style:{fill:'#b2b2b2'}},
      {type:'polyline',shape:{points:coast.map(px)},style:{fill:'none',stroke:'#000',lineWidth:3.4,lineJoin:'round'}},
      {type:'polygon',shape:{points:bay.map(px)},style:{fill:'#fff',stroke:'#000',lineWidth:3,lineJoin:'round'}}]};
  }});
  series.push({...ax,type:'scatter',z:3,data:coastSpecks,symbolSize:1.3,itemStyle:{color:'#444'}});
  series.push({...ax,type:'scatter',z:3,data:islands,symbolSize:7,itemStyle:{color:'#000'}});
  // contours
  series.push({...ax,type:'custom',clip:true,z:4,data:[[16,-32]],renderItem:(params,api)=>{
    const px=q=>api.coord(q);
    const kids=[];
    const add=s=>{if(s.length>1)kids.push({type:'polyline',shape:{points:s.map(px)},style:{fill:'none',stroke:'#111',lineWidth:1}});};
    p.fills.forEach(chain=>chain.forEach(e=>{if(!e.hide)segs(e.pts).forEach(add);}));
    p.extra.forEach(l=>segs(l).forEach(add));
    return {type:'group',clipPath:{type:'polygon',shape:{points:regionOf(p).map(px)}},children:kids};
  }});
  // wind stress arrows
  const arrows=[];
  gridLats.forEach((la,r)=>gridLons.forEach((lo,c)=>{const n=r*gridLons.length+c;arrows.push([lo,la,p.tauE[n],p.tauN[n]]);}));
  series.push({...ax,type:'custom',clip:true,z:5,data:arrows,encode:{x:0,y:1},renderItem:(params,api)=>{
    const t=api.coord([api.value(0),api.value(1)]);
    const dx=api.value(2)*ARROW_PX,dy=-api.value(3)*ARROW_PX,len=Math.hypot(dx,dy);
    if(len<0.3)return null;
    const h=[t[0]+dx,t[1]+dy],ang=Math.atan2(-dy,-dx),bl=len*0.25,sp=0.33;
    const b1=[h[0]+bl*Math.cos(ang+sp),h[1]+bl*Math.sin(ang+sp)],b2=[h[0]+bl*Math.cos(ang-sp),h[1]+bl*Math.sin(ang-sp)];
    return {type:'polyline',shape:{points:[t,h,b1,h,b2]},style:{fill:'none',stroke:'#111',lineWidth:1}};
  }});
  // contour labels
  series.push({...ax,type:'custom',clip:false,z:6,data:p.labels.map(l=>[l[0],l[1]]),encode:{x:0,y:1},renderItem:(params,api)=>{
    const l=p.labels[params.dataIndex],c=api.coord([l[0],l[1]]);
    return {type:'text',x:c[0],y:c[1],rotation:l[3]*Math.PI/180,scaleX:0.85,style:{text:l[2],font:'16px '+SANS,fill:'#111',align:'center',verticalAlign:'middle'}};
  }});
  // fancy frame
  series.push({...ax,type:'custom',clip:false,z:7,data:[[16,-32]],renderItem:(params,api)=>{
    const px=q=>api.coord(q),a=px([16,-32]),b=px([19,-34]);
    const kids=[],W=b[0]-a[0],H=b[1]-a[1],sx=W/12,sy=H/12;
    const rect=(x,y,w,h,f)=>kids.push({type:'rect',shape:{x,y,width:w,height:h},style:{fill:f,stroke:'#333',lineWidth:0.7}});
    for(let k=0;k<12;k++){
      rect(a[0]+k*sx,a[1],sx,BAND,k%2?'#7d7d7d':'#fff');
      rect(a[0]+k*sx,b[1]-BAND,sx,BAND,k%2?'#fff':'#7d7d7d');
      rect(a[0],a[1]+k*sy,BAND,sy,k%2?'#7d7d7d':'#fff');
      rect(b[0]-BAND,a[1]+k*sy,BAND,sy,k%2?'#fff':'#7d7d7d');
    }
    const tick=(x1,y1,x2,y2)=>kids.push({type:'line',shape:{x1,y1,x2,y2},style:{stroke:'#222',lineWidth:0.9}});
    lonTicks.forEach(lo=>{const x=px([lo,-32])[0];tick(x,a[1]-3,x,a[1]+BAND);tick(x,b[1]-BAND,x,b[1]+3);});
    latTicks.forEach(la=>{const y=px([16,la])[1];tick(a[0]-3,y,a[0]+BAND,y);tick(b[0]-BAND,y,b[0]+3,y);});
    return {type:'group',children:kids};
  }});
  // tick labels: longitude
  series.push({...ax,type:'custom',clip:false,z:8,data:lonTicks.map(v=>[v,-34]),encode:{x:0,y:1},renderItem:(params,api)=>{
    const c=api.coord([api.value(0),api.value(1)]),s=lonTickLabels[params.dataIndex],big=s.includes('|');
    return {type:'text',x:c[0]+(big?3:-0.5),y:c[1]+(big?28.5:18),scaleX:SQUEEZE,style:{text:tickText(s),rich:tickRich,align:'center',verticalAlign:'middle'}};
  }});
  // tick labels: latitude
  series.push({...ax,type:'custom',clip:false,z:8,data:latTicks.map(v=>[16,v]),encode:{x:0,y:1},renderItem:(params,api)=>{
    const c=api.coord([api.value(0),api.value(1)]),s=latTickLabels[params.dataIndex],big=s.includes('|');
    return {type:'text',x:c[0]-(big?9:7),y:c[1]+(big?5.7:3),scaleX:SQUEEZE,style:{text:tickText(s),rich:tickRich,align:'right',verticalAlign:'middle'}};
  }});
});

// colour bar
const cbi=panels.length;
grid.push({left:46,top:34,width:17,height:779,show:true,borderColor:'#444',borderWidth:1,backgroundColor:'transparent'});
xAxis.push({type:'value',gridIndex:cbi,min:0,max:1,show:false});
yAxis.push({type:'value',gridIndex:cbi,min:colorMin,max:colorMax,splitLine:{show:false},axisLine:{show:false},
  axisTick:{show:true,inside:true,length:6,customValues:colorTicks,lineStyle:{color:'#222'}},
  axisLabel:{customValues:colorTicks,margin:7,fontFamily:SANS,fontSize:16,color:'#555'}});
const levelData=[];
for(let k=0;k<colorLevels;k++){const lo=colorMin+k*(colorMax-colorMin)/colorLevels;levelData.push([0,lo,lo+(colorMax-colorMin)/colorLevels]);}
series.push({type:'custom',xAxisIndex:cbi,yAxisIndex:cbi,silent:true,animation:false,z:1,data:levelData,encode:{y:[1,2]},renderItem:(params,api)=>{
  const a=api.coord([0,api.value(2)]),b=api.coord([1,api.value(1)]);
  return {type:'rect',shape:{x:a[0],y:a[1],width:b[0]-a[0],height:b[1]-a[1]+0.5},style:{fill:jet((api.value(1)+api.value(2))/2)}};
}});

const chart=echarts.init(document.getElementById('c'),null,{renderer:'canvas'});
chart.setOption({animation:false,backgroundColor:'#fff',title,grid,xAxis,yAxis,series,
  graphic:[
   {type:'text',x:18,y:406,rotation:Math.PI/2,scaleX:1.12,z:20,style:{text:'upwelling velocity',font:'17px "DejaVu Sans",sans-serif',fill:'#555',align:'center',verticalAlign:'middle'}},
   {type:'text',x:29,y:8,scaleX:0.85,z:20,style:{rich:{a:{fontFamily:SANS,fontSize:16,fill:'#333',lineHeight:20},b:{fontFamily:SANS,fontSize:11,fill:'#333',verticalAlign:'top',lineHeight:12}},text:'{a|m day}{b|-1}'}},
   {type:'rect',z:20,shape:{x:387.5,y:61.5,width:119,height:33},style:{fill:'#fff',stroke:'#666',lineWidth:1}},
   {type:'polyline',z:21,shape:{points:[[392,77.5],[440,77.5],[429,73.5],[440,77.5],[429,81.5]]},style:{fill:'none',stroke:'#444',lineWidth:1}},
   {type:'text',x:446,y:80,scaleX:0.85,z:21,style:{rich:{a:{fontFamily:SANS,fontSize:16,fill:'#222',lineHeight:20},b:{fontFamily:SANS,fontSize:11,fill:'#222',verticalAlign:'top',lineHeight:12}},text:'{a|0.5 N/m}{b|2}',verticalAlign:'middle'}},
   {type:'rect',z:30,shape:{x:1860,y:0,width:21,height:833},style:{fill:'#fff'}}
  ]});
</script></body></html>
